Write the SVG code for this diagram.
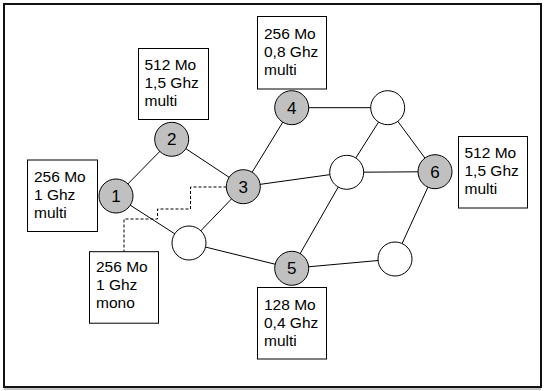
<svg xmlns="http://www.w3.org/2000/svg" width="545" height="391" viewBox="0 0 545 391">
<style>
.box{fill:#fff;stroke:#000;stroke-width:1}
.lbl{font-family:"Liberation Sans",Arial,sans-serif;font-size:15.5px;fill:#000}
.n{stroke:#000;stroke-width:1}
.g{fill:#c0c0c0}
.w{fill:#fff}
.nt{font-family:"Liberation Sans",Arial,sans-serif;font-size:17px;fill:#000;text-anchor:middle}
.e{stroke:#000;stroke-width:1;fill:none}
</style>
<rect x="0" y="0" width="545" height="391" fill="#fff"/>
<rect x="4" y="4" width="537" height="383" fill="none" stroke="#111" stroke-width="2"/>
<line x1="4" y1="389" x2="541" y2="389" stroke="#888" stroke-width="1"/>
<g id="connectors">
<line class="e" x1="116" y1="196" x2="171.7" y2="139.3"/>
<line class="e" x1="171.7" y1="139.3" x2="243.3" y2="186.7"/>
<line class="e" x1="116" y1="196" x2="189" y2="243"/>
<line class="e" x1="189" y1="243" x2="243.3" y2="186.7"/>
<line class="e" x1="243.3" y1="186.7" x2="291.7" y2="107.7"/>
<line class="e" x1="243.3" y1="186.7" x2="346.7" y2="172.3"/>
<line class="e" x1="291.7" y1="107.7" x2="387.7" y2="107.7"/>
<line class="e" x1="387.7" y1="107.7" x2="346.7" y2="172.3"/>
<line class="e" x1="387.7" y1="107.7" x2="435" y2="171.7"/>
<line class="e" x1="346.7" y1="172.3" x2="435" y2="171.7"/>
<line class="e" x1="346.7" y1="172.3" x2="291.7" y2="268.3"/>
<line class="e" x1="189" y1="243" x2="291.7" y2="268.3"/>
<line class="e" x1="291.7" y1="268.3" x2="395" y2="259"/>
<line class="e" x1="395" y1="259" x2="435" y2="171.7"/>
<polyline class="e" stroke-dasharray="3,2" points="226.5,187 190.5,187 190.5,209 157.5,209 157.5,219 124,219 124,251.7"/>
</g>
<g id="node1"><circle class="n g" cx="116" cy="196" r="17"/><text class="nt" x="116" y="202">1</text></g>
<g id="node2"><circle class="n g" cx="171.7" cy="139.3" r="17"/><text class="nt" x="171.7" y="145.3">2</text></g>
<g id="node3"><circle class="n g" cx="243.3" cy="186.7" r="17"/><text class="nt" x="243.3" y="192.7">3</text></g>
<g id="node4"><circle class="n g" cx="291.7" cy="107.7" r="17"/><text class="nt" x="291.7" y="113.7">4</text></g>
<g id="node5"><circle class="n g" cx="291.7" cy="268.3" r="17"/><text class="nt" x="291.7" y="274.3">5</text></g>
<g id="node6"><circle class="n g" cx="435" cy="171.7" r="17"/><text class="nt" x="435" y="177.7">6</text></g>
<g id="nodeA"><circle class="n w" cx="387.7" cy="107.7" r="17"/></g>
<g id="nodeB"><circle class="n w" cx="346.7" cy="172.3" r="17"/></g>
<g id="nodeC"><circle class="n w" cx="189" cy="243" r="17"/></g>
<g id="nodeD"><circle class="n w" cx="395" cy="259" r="17"/></g>
<g id="box1"><rect class="box" x="27.5" y="160" width="70" height="71.5"/><text class="lbl" x="34" y="182">256 Mo</text><text class="lbl" x="34" y="200">1 Ghz</text><text class="lbl" x="34" y="218">multi</text></g>
<g id="box2"><rect class="box" x="138.5" y="48.5" width="70" height="71"/><text class="lbl" x="144.5" y="70">512 Mo</text><text class="lbl" x="144.5" y="88">1,5 Ghz</text><text class="lbl" x="144.5" y="106">multi</text></g>
<g id="box4"><rect class="box" x="257.5" y="16.5" width="69" height="72.5"/><text class="lbl" x="264" y="38.5">256 Mo</text><text class="lbl" x="264" y="56.5">0,8 Ghz</text><text class="lbl" x="264" y="74.5">multi</text></g>
<g id="box5"><rect class="box" x="257.5" y="287.5" width="69" height="71.5"/><text class="lbl" x="264" y="309.5">128 Mo</text><text class="lbl" x="264" y="327.5">0,4 Ghz</text><text class="lbl" x="264" y="345.5">multi</text></g>
<g id="box6"><rect class="box" x="458.5" y="136.5" width="69" height="71.5"/><text class="lbl" x="464.5" y="158">512 Mo</text><text class="lbl" x="464.5" y="176">1,5 Ghz</text><text class="lbl" x="464.5" y="194">multi</text></g>
<g id="boxMono"><rect class="box" x="89.5" y="251.7" width="69" height="71.5"/><text class="lbl" x="96" y="272">256 Mo</text><text class="lbl" x="96" y="290">1 Ghz</text><text class="lbl" x="96" y="308">mono</text></g>
</svg>
